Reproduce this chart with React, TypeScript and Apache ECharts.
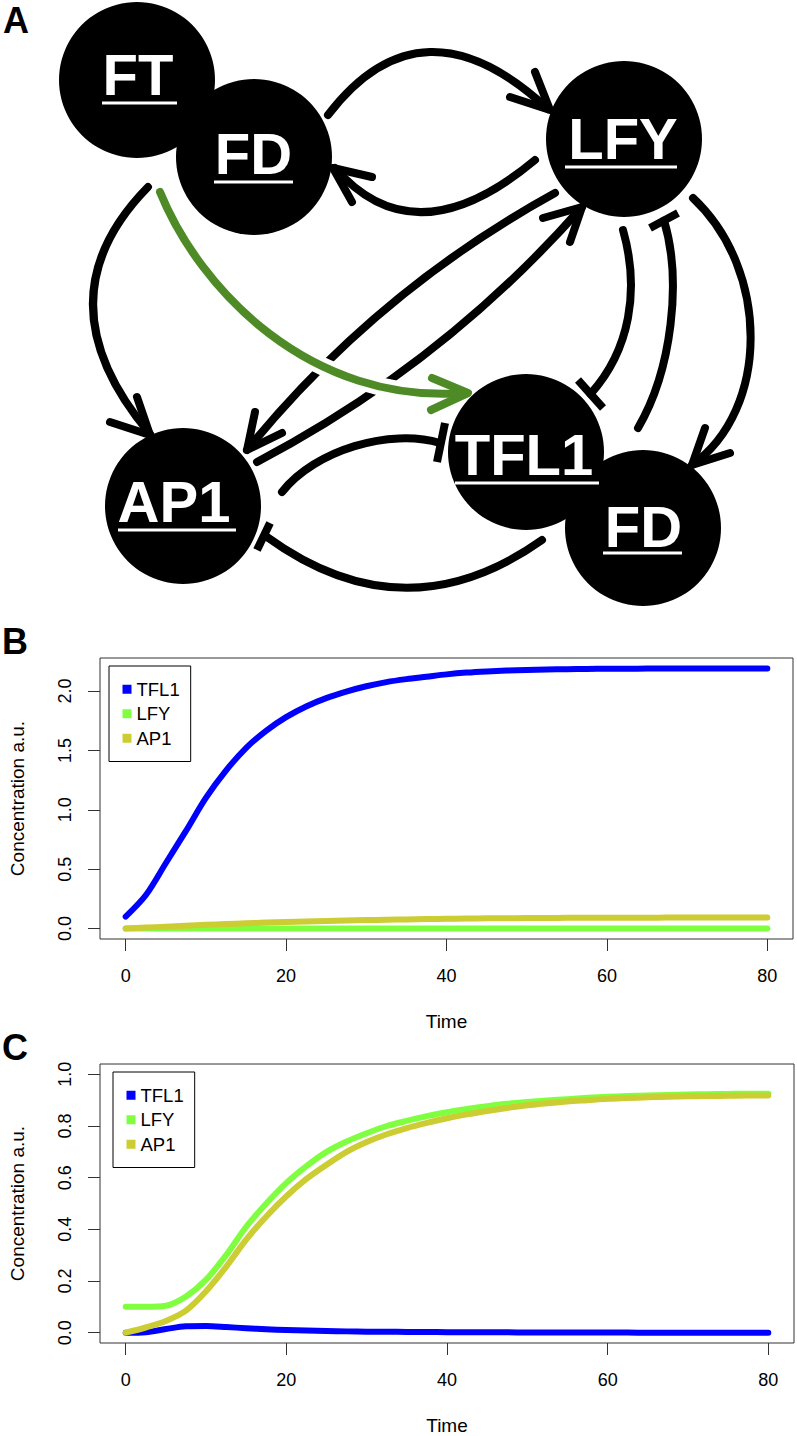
import React, { useEffect, useRef } from 'react';
import * as echarts from 'echarts';

const FONT = '"Liberation Sans", Arial, Helvetica, sans-serif';

// ---- data ----
const seriesNames = ['TFL1', 'LFY', 'AP1'];
const seriesColors = ['#0000FF', '#80FF40', '#CCCC33'];

const xTicks = [0, 20, 40, 60, 80];
const yTicksB = [0, 0.5, 1, 1.5, 2];
const yTicksC = [0, 0.2, 0.4, 0.6, 0.8, 1];

const time = [0, 2.5, 5, 7.5, 10, 12.5, 15, 17.5, 20, 22.5, 25, 27.5, 30, 32.5, 35, 37.5, 40,
  42.5, 45, 47.5, 50, 52.5, 55, 57.5, 60, 62.5, 65, 67.5, 70, 72.5, 75, 77.5, 80];

// Panel B
const tfl1B = [0.1, 0.28, 0.55, 0.82, 1.1, 1.33, 1.52, 1.665, 1.78, 1.87, 1.94, 1.995, 2.04, 2.075, 2.1, 2.12, 2.14,
  2.155, 2.165, 2.172, 2.177, 2.181, 2.184, 2.186, 2.187, 2.188, 2.189, 2.19, 2.19, 2.19, 2.19, 2.19, 2.19];
const lfyB = [0, 0, 0, 0, 0, 0, 0, 0, 0, 0, 0, 0, 0, 0, 0, 0, 0,
  0, 0, 0, 0, 0, 0, 0, 0, 0, 0, 0, 0, 0, 0, 0, 0];
const ap1B = [0, 0.008, 0.016, 0.024, 0.031, 0.038, 0.044, 0.05, 0.055, 0.06, 0.064, 0.068, 0.071, 0.074, 0.077, 0.08, 0.082,
  0.084, 0.086, 0.087, 0.088, 0.089, 0.09, 0.09, 0.091, 0.091, 0.091, 0.092, 0.092, 0.092, 0.092, 0.092, 0.092];

// Panel C
const tfl1C = [0, 0.002, 0.014, 0.025, 0.026, 0.022, 0.017, 0.013, 0.01, 0.008, 0.006, 0.005, 0.004, 0.0035, 0.003, 0.0025, 0.002,
  0.0018, 0.0015, 0.0012, 0.001, 0.0008, 0.0006, 0.0004, 0.0003, 0.0002, 0.0001, 0, 0, 0, 0, 0, 0];
const lfyC = [0.1, 0.1, 0.104, 0.14, 0.205, 0.3, 0.41, 0.5, 0.58, 0.645, 0.7, 0.74, 0.772, 0.8, 0.82, 0.838, 0.853,
  0.866, 0.877, 0.886, 0.893, 0.899, 0.904, 0.909, 0.913, 0.916, 0.918, 0.92, 0.922, 0.923, 0.924, 0.925, 0.925];
const ap1C = [0, 0.02, 0.045, 0.085, 0.16, 0.255, 0.36, 0.45, 0.528, 0.595, 0.65, 0.7, 0.738, 0.768, 0.792, 0.812, 0.83,
  0.845, 0.858, 0.87, 0.88, 0.888, 0.895, 0.9, 0.905, 0.908, 0.911, 0.913, 0.915, 0.916, 0.917, 0.918, 0.918];

// ---- network diagram (panel A) ----
const nodeNames = ['FT', 'FD', 'LFY', 'AP1', 'TFL1', 'FD'];

function buildNetwork(): any[] {
  const els: any[] = [];
  let z = 0;
  const black = '#000000';
  const green = '#4E8B26';
  const lw = 8;
  const curve = (p: number[], color: string, width: number) => {
    const shape: any = { x1: p[0], y1: p[1] };
    if (p.length === 6) {
      shape.cpx1 = p[2]; shape.cpy1 = p[3]; shape.x2 = p[4]; shape.y2 = p[5];
    } else {
      shape.cpx1 = p[2]; shape.cpy1 = p[3]; shape.cpx2 = p[4]; shape.cpy2 = p[5]; shape.x2 = p[6]; shape.y2 = p[7];
    }
    els.push({ type: 'bezierCurve', z2: z++, shape, style: { stroke: color, lineWidth: width, lineCap: 'round', fill: null } });
  };
  const poly = (pts: number[][], color: string, cap: string) => {
    els.push({ type: 'polyline', z2: z++, shape: { points: pts }, style: { stroke: color, lineWidth: lw, lineCap: cap, lineJoin: 'round', fill: null } });
  };
  // black edges
  curve([328, 115, 422, -8, 548, 109], black, lw); // FD -> LFY
  curve([535, 160, 415, 260, 335, 168], black, lw); // LFY -> FD
  curve([148, 187, 37, 300, 150, 434], black, lw); // FT/FD -> AP1
  curve([555, 193, 376, 291.5, 247, 450], black, lw); // LFY -> AP1
  curve([257, 462, 443, 364.5, 582, 207], black, lw); // AP1 -> LFY
  curve([282, 492, 315, 450, 390, 428, 440, 443], black, lw); // AP1 -| TFL1
  curve([542, 540, 405, 637, 267, 537], black, lw); // TFL1/FD -| AP1
  curve([623, 230, 640, 290, 630, 350, 590.5, 394], black, lw); // LFY -| TFL1
  curve([638, 428, 672, 370, 682, 280, 664, 220.5], black, lw); // TFL1/FD -| LFY
  curve([693, 198, 770, 270, 770, 410, 692, 465], black, lw); // LFY -> FD
  // green edge with halo
  const gp = [160, 192, 200, 290, 310, 405, 466, 393];
  curve(gp, '#ffffff', 18);
  curve(gp, green, lw);
  // arrow heads
  poly([[510, 97], [550, 110], [535, 72]], black, 'round');
  poly([[372, 177], [333, 168], [352, 202]], black, 'round');
  poly([[110, 422], [150, 435], [137, 397]], black, 'round');
  poly([[432, 378], [468, 393], [431, 410]], green, 'round');
  poly([[255, 412], [247, 450], [282, 433]], black, 'round');
  poly([[543, 218], [582, 207], [570, 242]], black, 'round');
  poly([[705, 428], [692, 465], [730, 453]], black, 'round');
  // inhibition bars
  poly([[445, 423], [437, 462]], black, 'butt');
  poly([[257, 550], [270, 523]], black, 'butt');
  poly([[578, 380], [603, 408]], black, 'butt');
  poly([[650, 228], [678, 213]], black, 'butt');
  // nodes
  const circles = [[137, 80], [254, 157], [624, 139], [183, 506], [526, 452], [643, 528]];
  circles.forEach((c) => {
    els.push({ type: 'circle', z2: z++, shape: { cx: c[0], cy: c[1], r: 78 }, style: { fill: '#000' } });
  });
  const labelPos = [[138, 74], [253.5, 153.5], [623, 138.5], [174, 501.5], [524, 454.5], [643.5, 526]];
  const underline = [[102, 177, 103], [214, 293, 182], [565, 677, 167], [118, 236, 530], [455, 599, 483], [603, 682, 553]];
  nodeNames.forEach((n, i) => {
    els.push({
      type: 'text', z2: z++, x: labelPos[i][0], y: labelPos[i][1],
      style: { text: n, fill: '#fff', fontSize: 58, fontWeight: 'bold', fontFamily: FONT, align: 'center', verticalAlign: 'middle' },
    });
    const u = underline[i];
    els.push({ type: 'rect', z2: z++, shape: { x: u[0], y: u[2] - 1.6, width: u[1] - u[0], height: 3.2 }, style: { fill: '#fff' } });
  });
  // panel letters
  const letters = [['A', 3, 20.5], ['B', 2, 641], ['C', 2, 1047]];
  letters.forEach((l) => {
    els.push({
      type: 'text', z2: z++, x: l[1], y: l[2],
      style: { text: l[0], fill: '#000', fontSize: 36, fontWeight: 'bold', fontFamily: FONT, align: 'left', verticalAlign: 'middle' },
    });
  });
  return els;
}

function makeXAxis(gridIndex: number) {
  return {
    type: 'value', gridIndex, min: -3.2, max: 83.2,
    name: 'Time', nameLocation: 'middle', nameGap: 73,
    nameTextStyle: { fontSize: 19, color: '#000', fontFamily: FONT },
    axisLine: { show: false, onZero: false },
    axisTick: { show: true, length: 12, customValues: xTicks, lineStyle: { color: '#333', width: 1 } },
    axisLabel: { customValues: xTicks, fontSize: 18, color: '#000', fontFamily: FONT, margin: 28 },
    splitLine: { show: false },
  };
}

function makeYAxis(gridIndex: number, min: number, max: number, ticks: number[]) {
  return {
    type: 'value', gridIndex, min, max,
    name: 'Concentration a.u.', nameLocation: 'middle', nameGap: 73, nameRotate: 90,
    nameTextStyle: { fontSize: 19, color: '#000', fontFamily: FONT },
    axisLine: { show: false, onZero: false },
    axisTick: { show: true, length: 12, customValues: ticks, lineStyle: { color: '#333', width: 1 } },
    axisLabel: {
      customValues: ticks, rotate: 90, fontSize: 18, color: '#000', fontFamily: FONT, margin: 26,
      formatter: (v: number) => v.toFixed(1),
    },
    splitLine: { show: false },
  };
}

function makeLegend(left: number, top: number) {
  return {
    data: seriesNames, left, top, orient: 'vertical', icon: 'rect',
    itemWidth: 9, itemHeight: 9, itemGap: 5.5, itemTextGap: 13.5,
    padding: [13.75, 11, 13.75, 13.5],
    borderColor: '#000', borderWidth: 1, borderRadius: 0, backgroundColor: '#fff',
    textStyle: { fontSize: 18.5, color: '#000', fontFamily: FONT },
    selectedMode: false,
  };
}

function lineSeries(name: string, color: string, idx: number, t: number[], v: number[]) {
  return {
    type: 'line', name, xAxisIndex: idx, yAxisIndex: idx,
    data: t.map((x, i) => [x, v[i]]),
    showSymbol: false, symbol: 'none', smooth: 0.3, color,
    lineStyle: { width: 6, color, cap: 'round', join: 'round' },
    itemStyle: { color },
  };
}

export default function App() {
  const ref = useRef<HTMLDivElement>(null);
  useEffect(() => {
    if (!ref.current) return;
    const chart = echarts.init(ref.current, undefined, { renderer: 'svg' });
    const option: any = {
      animation: false,
      backgroundColor: '#ffffff',
      textStyle: { fontFamily: FONT },
      grid: [
        { left: 92, top: 658, width: 701, height: 281, show: true, borderColor: '#333', borderWidth: 1, backgroundColor: 'transparent' },
        { left: 95, top: 1064, width: 699, height: 279, show: true, borderColor: '#333', borderWidth: 1, backgroundColor: 'transparent' },
      ],
      xAxis: [makeXAxis(0), makeXAxis(1)],
      yAxis: [makeYAxis(0, -0.088, 2.278, yTicksB), makeYAxis(1, -0.04, 1.04, yTicksC)],
      legend: [makeLegend(109, 666), makeLegend(113, 1072)],
      series: [
        lineSeries(seriesNames[0], seriesColors[0], 0, time, tfl1B),
        lineSeries(seriesNames[1], seriesColors[1], 0, time, lfyB),
        lineSeries(seriesNames[2], seriesColors[2], 0, time, ap1B),
        lineSeries(seriesNames[0], seriesColors[0], 1, time, tfl1C),
        lineSeries(seriesNames[1], seriesColors[1], 1, time, lfyC),
        lineSeries(seriesNames[2], seriesColors[2], 1, time, ap1C),
      ],
      graphic: { elements: buildNetwork() },
    };
    chart.setOption(option);
    return () => chart.dispose();
  }, []);
  return <div ref={ref} style={{ position: 'absolute', left: 0, top: 0, width: 797, height: 1436 }} />;
}
